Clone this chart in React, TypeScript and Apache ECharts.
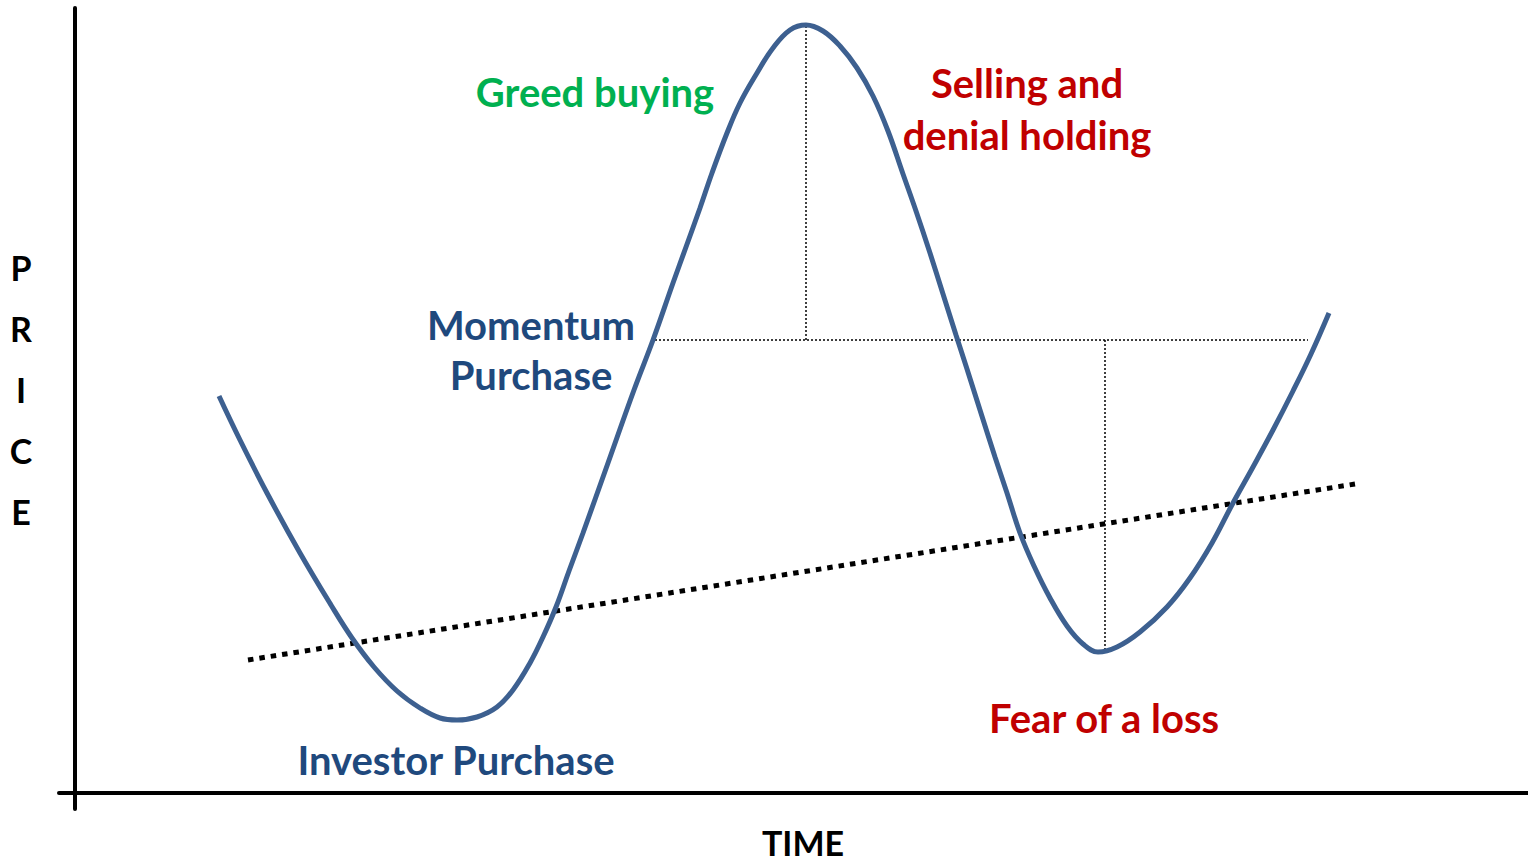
import React, { useEffect, useRef } from "react";
import * as echarts from "echarts";

// Price path (time units, price units; origin at the axes' corner)
const curveTime = [144, 165, 192, 225, 256, 277, 299, 322, 345, 365, 382, 402, 422, 438, 455, 468, 481, 494, 508, 533, 559, 578, 598, 611, 625, 637, 652, 665, 682, 698, 715, 731, 748, 765, 782, 798, 813, 828, 841, 855, 868, 881, 892, 905, 920, 932, 945, 959, 975, 992, 1008, 1023, 1042, 1065, 1092, 1115, 1137, 1158, 1178, 1198, 1218, 1236, 1254];
const curvePrice = [397, 353, 300, 240, 188, 155, 126, 102, 85, 75, 73, 76, 86, 103, 130, 156, 186, 222, 260, 330, 403, 453, 510, 546, 585, 620, 660, 690, 720, 745, 763, 768, 762, 747, 725, 697, 662, 619, 582, 540, 499, 458, 424, 383, 336, 300, 260, 227, 195, 167, 149, 141, 146, 161, 186, 215, 250, 290, 326, 363, 402, 439, 480];

// Long-term trend line
const trendTime = [173, 1280];
const trendPrice = [133, 309];

// Reference (thin dotted) lines
const levelTime = [580, 1233];
const levelPrice = [453, 453];
const peakTime = [731, 731];
const peakPrice = [453, 768];
const troughTime = [1030, 1030];
const troughPrice = [453, 141];

const yLetters = ["P", "R", "I", "C", "E"];
const xTitle = "TIME";

const zip = (a: number[], b: number[]) => a.map((v, i) => [v, b[i]]);

const FONT = "Lato, 'Open Sans', sans-serif";
const BLUE = "#1F497D";
const RED = "#C00000";
const GREEN = "#00B050";

export default function App() {
  const ref = useRef<HTMLDivElement>(null);
  useEffect(() => {
    if (!ref.current) return;
    const chart = echarts.init(ref.current, undefined, { renderer: "svg" });
    const thin = { color: "#000", width: 1.5, type: [2, 2] as any };
    const label = (text: string, x: number, y: number, fill: string, size = 40, lh = 52) => ({
      type: "text",
      x,
      y,
      style: {
        text,
        fill,
        fontFamily: FONT,
        fontWeight: "bold",
        fontSize: size,
        lineHeight: lh,
        align: "center",
        verticalAlign: "middle",
      },
    });
    chart.setOption({
      animation: false,
      grid: { left: 59, right: 0, top: 8, bottom: 52 },
      xAxis: {
        type: "value",
        min: -16,
        max: 1453,
        axisLine: { show: true, onZero: true, lineStyle: { color: "#000", width: 4 } },
        axisTick: { show: false },
        axisLabel: { show: false },
        splitLine: { show: false },
      },
      yAxis: {
        type: "value",
        min: -16,
        max: 785,
        axisLine: { show: true, onZero: true, lineStyle: { color: "#000", width: 4 } },
        axisTick: { show: false },
        axisLabel: { show: false },
        splitLine: { show: false },
      },
      series: [
        { type: "line", data: zip(levelTime, levelPrice), showSymbol: false, lineStyle: thin, z: 1 },
        { type: "line", data: zip(peakTime, peakPrice), showSymbol: false, lineStyle: thin, z: 1 },
        { type: "line", data: zip(troughTime, troughPrice), showSymbol: false, lineStyle: thin, z: 1 },
        {
          type: "line",
          data: zip(trendTime, trendPrice),
          showSymbol: false,
          lineStyle: { color: "#000", width: 5, type: [5.5, 6] as any, cap: "butt" },
          z: 2,
        },
        {
          type: "line",
          data: zip(curveTime, curvePrice),
          showSymbol: false,
          smooth: 0.4,
          lineStyle: { color: "#3D6090", width: 5 },
          z: 3,
        },
      ],
      graphic: [
        label("Greed buying", 595, 92, GREEN),
        label("Selling and\ndenial holding", 1027, 109, RED),
        label("Momentum\nPurchase", 531, 350, BLUE, 40, 50),
        label("Investor Purchase", 456, 760, BLUE),
        label("Fear of a loss", 1104, 718, RED),
        ...yLetters.map((c, i) => label(c, 21, 267 + 61 * i, "#000", 34, 34)),
        label(xTitle, 803, 842, "#000", 34, 26),
      ],
    });
    return () => chart.dispose();
  }, []);
  return (
    <div
      ref={ref}
      style={{ position: "absolute", left: 0, top: 0, width: 1528, height: 861, background: "#fff" }}
    />
  );
}
